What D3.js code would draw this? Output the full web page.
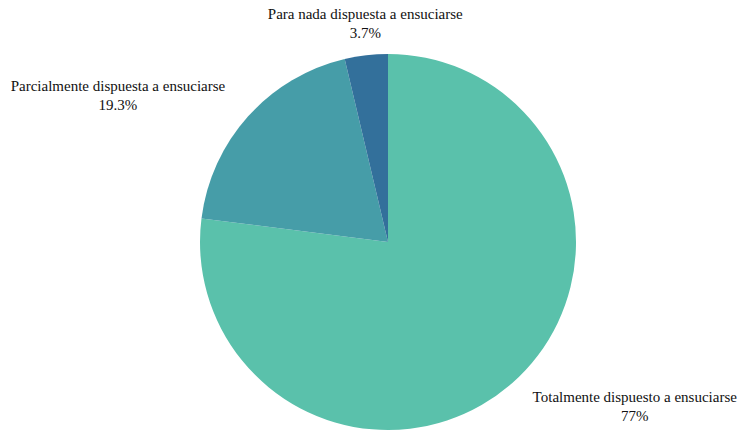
<!DOCTYPE html>
<html>
<head>
<meta charset="utf-8">
<script src="https://cdn.jsdelivr.net/npm/d3@7"></script>
<style>
  html, body { margin: 0; padding: 0; background: #fff; }
  svg { display: block; }
  text { font-family: "Liberation Serif", "Times New Roman", serif; font-size: 15px; fill: #111; }
</style>
</head>
<body>
<svg id="chart" width="739" height="431"></svg>
<script>
// Willingness to get dirty — share of respondents
const categories = [
  "Totalmente dispuesto a ensuciarse",
  "Parcialmente dispuesta a ensuciarse",
  "Para nada dispuesta a ensuciarse"
];
const values = [77, 19.3, 3.7];
const valueLabels = ["77%", "19.3%", "3.7%"];
const colors = ["#5ac1ab", "#469da8", "#33709b"];

const width = 739, height = 431;
const cx = 388, cy = 242, radius = 188;

const svg = d3.select("#chart");
const g = svg.append("g").attr("transform", `translate(${cx},${cy})`);

const pie = d3.pie().sort(null).value(d => d.value);
const arcs = pie(categories.map((c, i) => ({ name: c, value: values[i], label: valueLabels[i], color: colors[i] })));

const arc = d3.arc().innerRadius(0).outerRadius(radius);

g.selectAll("path.slice")
  .data(arcs)
  .join("path")
  .attr("class", "slice")
  .attr("d", arc)
  .attr("fill", d => d.data.color);

// Outside labels: anchored to a point just beyond the rim at the slice's mid-angle
const lineH = 19;
const gap = 8;
arcs.forEach(d => {
  const a = (d.startAngle + d.endAngle) / 2;
  const sx = Math.sin(a), sy = -Math.cos(a);
  let px = sx * (radius + gap);
  const py = sy * (radius + gap);
  let anchor = "middle";
  if (sx > 0.3) { anchor = "start"; px += 15; }
  else if (sx < -0.3) { anchor = "end"; px -= 17; }
  // upper-half labels sit above the anchor point, lower-half below it
  let firstBase;
  if (sy < 0) firstBase = py - lineH - (anchor === "middle" ? 9 : 1);
  else firstBase = py + 13;

  const t = g.append("text").attr("y", firstBase);
  t.selectAll("tspan")
    .data([d.data.name, d.data.label])
    .join("tspan")
    .attr("dy", (l, i) => i === 0 ? 0 : lineH)
    .text(l => l);
  // value line is centred under the category line
  const w0 = t.select("tspan").node().getComputedTextLength();
  const centerX = anchor === "start" ? px + w0 / 2 : anchor === "end" ? px - w0 / 2 : px;
  t.attr("text-anchor", "middle");
  t.selectAll("tspan").attr("x", centerX);
});
</script>
</body>
</html>
